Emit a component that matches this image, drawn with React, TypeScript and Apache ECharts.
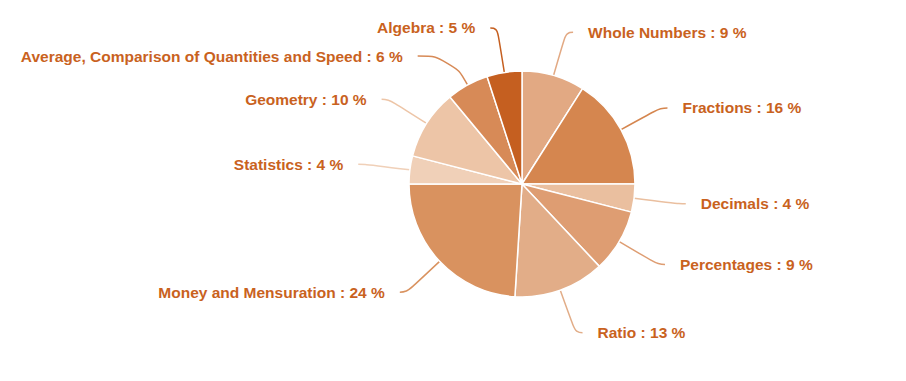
import React, { useEffect, useRef } from "react";
import * as echarts from "echarts";

const categories = [
  "Whole Numbers",
  "Fractions",
  "Decimals",
  "Percentages",
  "Ratio",
  "Money and Mensuration",
  "Statistics",
  "Geometry",
  "Average, Comparison of Quantities and Speed",
  "Algebra",
];
const values = [9, 16, 4, 9, 13, 24, 4, 10, 6, 5];
const colors = [
  "#E2A983",
  "#D5864F",
  "#EABF9F",
  "#DE9D72",
  "#E2AD88",
  "#D9925F",
  "#F0D0B8",
  "#EDC5A7",
  "#D78A57",
  "#C55F20",
];

export default function App() {
  const ref = useRef<HTMLDivElement>(null);
  useEffect(() => {
    if (!ref.current) return;
    const chart = echarts.init(ref.current, null, { renderer: "svg" });
    const data = categories.map((name, i) => {
      const item: any = {
        name,
        value: values[i],
        itemStyle: { color: colors[i] },
      };
      if (i === 8) {
        item.labelLine = { length: 33, length2: 34 };
      }
      return item;
    });
    chart.setOption({
      animation: false,
      backgroundColor: "#ffffff",
      series: [
        {
          type: "pie",
          center: [522, 184],
          radius: 113,
          startAngle: 90,
          clockwise: true,
          avoidLabelOverlap: true,
          itemStyle: { borderColor: "#ffffff", borderWidth: 1.5 },
          label: {
            show: true,
            position: "outside",
            formatter: "{b} : {c} %",
            color: "#C9621E",
            fontSize: 15.5,
            fontWeight: "bold",
            fontFamily: 'Arial, "Liberation Sans", sans-serif',
            distanceToLabelLine: 15,
            padding: [4, 0, 0, 0],
          },
          labelLine: {
            show: true,
            length: 45,
            length2: 7,
            smooth: 0.5,
            lineStyle: { width: 1.5 },
          },
          emphasis: { disabled: true },
          data,
        },
      ],
    });
    return () => chart.dispose();
  }, []);
  return (
    <div
      ref={ref}
      style={{ position: "fixed", left: 0, top: 0, width: 906, height: 381 }}
    />
  );
}
